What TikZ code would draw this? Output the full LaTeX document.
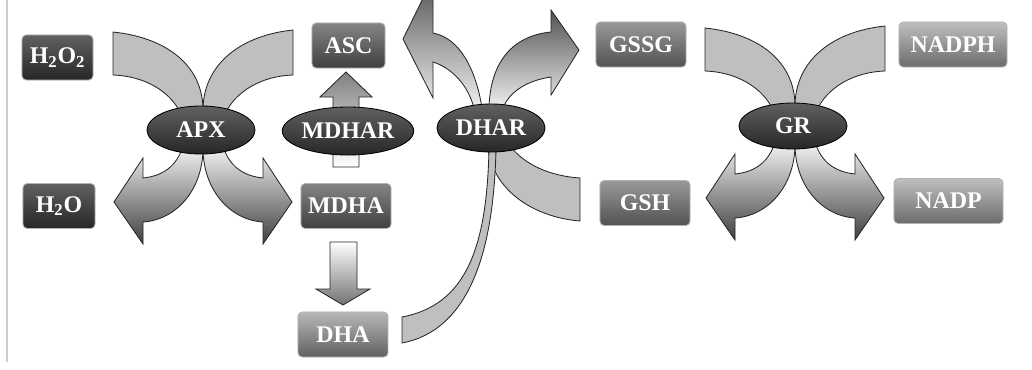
\documentclass[tikz,border=0pt]{standalone}
\usepackage{fontspec}
\setmainfont{Liberation Serif}
\usetikzlibrary{shapes.geometric,backgrounds}

\begin{document}
\begin{tikzpicture}[x=0.025cm,y=-0.025cm,
  molbox/.style={rounded corners=3pt,draw=black!30,line width=0.6pt,text=white,inner sep=0pt,
    minimum height=1.125cm,font=\bfseries\fontsize{17}{20}\selectfont},
  darkbox/.style={top color=black!62,bottom color=black!85},
  midbox/.style={top color=black!48,bottom color=black!75},
  gbox/.style={top color=black!40,bottom color=black!68},
  dhabox/.style={top color=black!28,bottom color=black!62},
  nadbox/.style={top color=black!25,bottom color=black!58},
  enzyme/.style={ellipse,draw=black,line width=0.6pt,top color=black!62,bottom color=black!85,
    text=white,inner sep=0pt,minimum width=2.7cm,minimum height=1.2cm,
    font=\bfseries\fontsize{17}{20}\selectfont},
  band/.style={draw=black!85,line width=0.6pt,fill=black!25},
  outarrow/.style={draw=black!85,line width=0.6pt,top color=black!4,bottom color=black!75},
  inarrow/.style={draw=black!85,line width=0.6pt,top color=black!68,bottom color=black!6},
  crossarrows/.pic={
    \draw[band] (-88,-98) .. controls (-31,-92) and (2,-62) .. (2,-20) -- (-20,-16)
      .. controls (-30,-38) and (-56,-54) .. (-88,-55) -- cycle;
    \draw[band] (92,-100) .. controls (35,-94) and (2,-62) .. (2,-20) -- (24,-16)
      .. controls (34,-38) and (60,-54) .. (92,-55) -- cycle;
    \draw[outarrow] (2,18) .. controls (2,60) and (-25,90) .. (-58,92) -- (-58,114) -- (-87,72)
      -- (-58,28) -- (-58,48) .. controls (-38,46) and (-24,36) .. (-18,16) -- cycle;
    \draw[outarrow] (2,18) .. controls (2,60) and (29,90) .. (62,92) -- (62,114) -- (91,72)
      -- (62,28) -- (62,48) .. controls (42,46) and (28,36) .. (22,16) -- cycle;
  }]
\useasboundingbox (0,0) rectangle (1032,369);

% metabolites
\node[molbox,darkbox,minimum width=1.775cm] (h2o2) at (57.5,57.5) {H\textsubscript{2}O\textsubscript{2}};
\node[molbox,darkbox,minimum width=1.8cm] (h2o) at (59,206) {H\textsubscript{2}O};
\node[molbox,midbox,minimum width=1.825cm] (asc) at (348.5,45.5) {ASC};
\node[molbox,midbox,minimum width=2.25cm] (mdha) at (346,206) {MDHA};
\node[molbox,dhabox,minimum width=2.25cm] (dha) at (343,334.5) {DHA};
\node[molbox,gbox,minimum width=2.25cm] (gssg) at (641,44.5) {GSSG};
\node[molbox,nadbox,minimum width=2.7cm] (nadph) at (953,44.5) {NADPH};
\node[molbox,gbox,minimum width=2.25cm] (gsh) at (645,203) {GSH};
\node[molbox,nadbox,minimum width=2.725cm] (nadp) at (948.5,201) {NADP};

% enzymes
\node[enzyme] (apx) at (201,130) {APX};
\node[enzyme] (mdhar) at (348,131) {MDHAR};
\node[enzyme] (dhar) at (491,128) {DHAR};
\node[enzyme,minimum height=1.15cm] (gr) at (793,126) {GR};

\begin{pgfonlayer}{background}
\clip (0,0) rectangle (1032,369);
\draw[black!20,line width=0.8pt] (7,0) -- (7,362);
\pic at (apx) {crossarrows};
\pic at (gr) {crossarrows};
% MDHAR
\begin{scope}[shift={(mdhar)}]
\draw[draw=black!85,line width=0.6pt,top color=black!50,bottom color=white]
  (-15,36) -- (-15,-34) -- (-28,-34) -- (-2,-59) -- (24,-34) -- (11,-34) -- (11,36) -- cycle;
\end{scope}
\draw[draw=black!85,line width=0.6pt,top color=white,bottom color=black!55]
  (330,242) -- (357,242) -- (357,289) -- (370,289) -- (343,305) -- (316,289) -- (330,289) -- cycle;
% DHAR
\draw[inarrow] (482,108) .. controls (476,70) and (460,38) .. (433,33) -- (433,-22) -- (403,39)
  -- (433,98) -- (433,62) .. controls (452,68) and (468,85) .. (474,108) -- cycle;
\draw[inarrow] (489,108) .. controls (490,65) and (510,36) .. (551,32) -- (551,10) -- (579,50)
  -- (551,95) -- (551,77) .. controls (530,80) and (510,90) .. (503,108) -- cycle;
\draw[band] (488,148) .. controls (494,195) and (540,218) .. (580,221) -- (580,178)
  .. controls (550,176) and (525,165) .. (510,146) -- cycle;
\draw[band] (402,317) .. controls (465,305) and (487,250) .. (489,148) -- (496,148)
  .. controls (494,250) and (470,330) .. (402,343) -- cycle;
\end{pgfonlayer}
\end{tikzpicture}
\end{document}
